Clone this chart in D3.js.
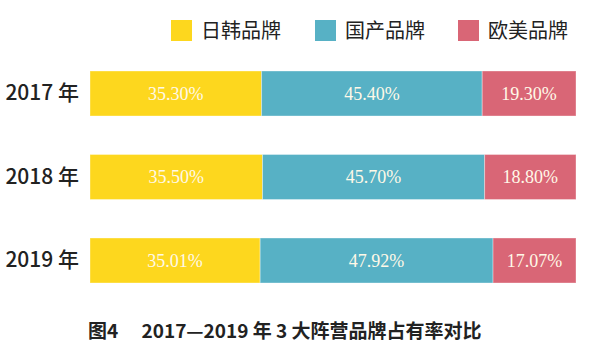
<!DOCTYPE html>
<html>
<head>
<meta charset="utf-8">
<script src="https://cdn.jsdelivr.net/npm/d3@7"></script>
<style>
  html, body { margin: 0; padding: 0; background: #fff; }
  svg { display: block; }
</style>
</head>
<body>
<svg id="chart" width="600" height="360"></svg>
<script>
// ---- data ----
const years = ["2017 年", "2018 年", "2019 年"];
const seriesNames = ["日韩品牌", "国产品牌", "欧美品牌"];
const japanKorea = [35.30, 35.50, 35.01];
const domestic   = [45.40, 45.70, 47.92];
const euroUS     = [19.30, 18.80, 17.07];
const caption = "图4　 2017—2019 年 3 大阵营品牌占有率对比";

const colors = ["#FDD71E", "#57B1C5", "#D96676"];
const sans = "'Noto Sans CJK SC', 'Noto Sans', sans-serif";

const rows = years.map((y, i) => ({ year: y, "日韩品牌": japanKorea[i], "国产品牌": domestic[i], "欧美品牌": euroUS[i] }));
const stacked = d3.stack().keys(seriesNames)(rows);

const svg = d3.select("#chart");

const x = d3.scaleLinear().domain([0, 100]).range([90, 576]);
const y = d3.scaleBand().domain(years).range([71, 283]).paddingInner(0.461).paddingOuter(0);
const color = d3.scaleOrdinal().domain(seriesNames).range(colors);

// bars
const groups = svg.append("g").selectAll("g").data(stacked).join("g")
  .attr("fill", d => color(d.key));

groups.selectAll("rect").data(d => d.map(v => ({ key: d.key, v }))).join("rect")
  .attr("x", d => x(d.v[0]))
  .attr("y", d => y(d.v.data.year))
  .attr("width", d => x(d.v[1]) - x(d.v[0]))
  .attr("height", y.bandwidth())
  .attr("stroke", "rgba(255,255,255,0.35)")
  .attr("stroke-width", 1);

// value labels
groups.selectAll("text").data(d => d.map(v => ({ key: d.key, v }))).join("text")
  .attr("x", d => (x(d.v[0]) + x(d.v[1])) / 2)
  .attr("y", d => y(d.v.data.year) + y.bandwidth() / 2)
  .attr("dy", "0.35em")
  .attr("text-anchor", "middle")
  .attr("fill", "#FFF9E8")
  .attr("font-family", "'Liberation Serif', 'Times New Roman', serif")
  .attr("font-size", 18)
  .text(d => (d.v[1] - d.v[0]).toFixed(2) + "%");

// y axis (labels only)
const yAxis = d3.axisLeft(y).tickSize(0).tickPadding(11);
const ya = svg.append("g").attr("transform", "translate(90,0)").call(yAxis);
ya.select(".domain").remove();
ya.selectAll("text")
  .attr("font-family", sans)
  .attr("font-size", 21)
  .attr("font-weight", 500)
  .attr("fill", "#222");

// legend
const legendX = [171, 315, 458];
const legend = svg.append("g").selectAll("g").data(seriesNames).join("g")
  .attr("transform", (d, i) => `translate(${legendX[i]},20)`);
legend.append("rect")
  .attr("width", 21).attr("height", 21)
  .attr("fill", d => color(d));
legend.append("text")
  .attr("x", 30).attr("y", 10.5).attr("dy", "0.36em")
  .attr("font-family", sans)
  .attr("font-size", 20)
  .attr("fill", "#222")
  .text(d => d);

// caption
svg.append("text")
  .attr("x", 88).attr("y", 331).attr("dy", "0.36em")
  .attr("font-family", sans)
  .attr("font-size", 19)
  .attr("font-weight", "bold")
  .attr("fill", "#222")
  .attr("xml:space", "preserve")
  .text(caption);
</script>
</body>
</html>
